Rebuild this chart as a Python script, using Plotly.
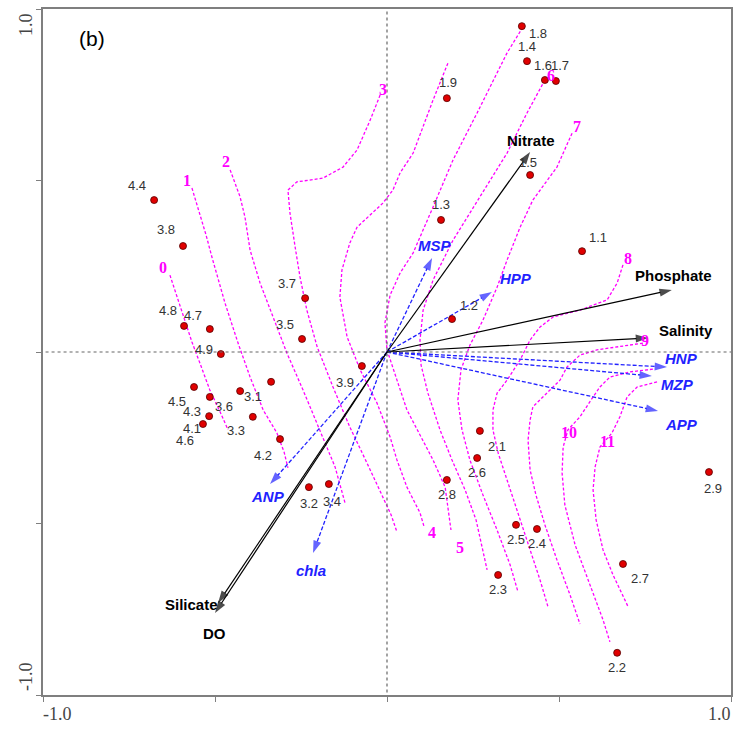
import plotly.graph_objects as go

# ---------------- data ----------------
site_labels = ["4.4", "3.8", "4.8", "4.7", "4.9", "4.5", "4.3", "4.1", "4.6", "3.6", "3.3", "3.1",
               "4.2", "3.7", "3.5", "3.9", "3.2", "3.4", "1.9", "1.3", "1.8", "1.4", "1.6", "1.7",
               "1.5", "1.1", "1.2", "2.1", "2.6", "2.8", "2.5", "2.4", "2.3", "2.7", "2.2", "2.9"]
site_x = [-0.677, -0.593, -0.590, -0.515, -0.483, -0.561, -0.515, -0.517, -0.535, -0.427, -0.390, -0.337,
          -0.311, -0.238, -0.247, -0.073, -0.227, -0.169, 0.174, 0.157, 0.392, 0.407, 0.459, 0.491,
          0.416, 0.567, 0.189, 0.270, 0.262, 0.174, 0.375, 0.436, 0.323, 0.686, 0.669, 0.936]
site_y = [0.443, 0.309, 0.076, 0.067, -0.006, -0.102, -0.131, -0.187, -0.210, -0.114, -0.189, -0.087,
          -0.254, 0.157, 0.038, -0.041, -0.394, -0.385, 0.740, 0.385, 0.950, 0.848, 0.793, 0.790,
          0.516, 0.294, 0.096, -0.230, -0.309, -0.373, -0.504, -0.516, -0.650, -0.618, -0.877, -0.350]

env_names = ["Nitrate", "Phosphate", "Salinity", "Silicate", "DO"]
env_x = [0.416, 0.828, 0.759, -0.491, -0.500]
env_y = [0.583, 0.181, 0.041, -0.732, -0.761]

sp_names = ["MSP", "HPP", "HNP", "MZP", "APP", "ANP", "chla"]
sp_x = [0.131, 0.305, 0.814, 0.770, 0.788, -0.340, -0.215]
sp_y = [0.274, 0.175, -0.044, -0.070, -0.172, -0.385, -0.586]

contour_levels = ["0", "1", "2", "3", "4", "5", "6", "7", "8", "9", "10", "11"]
contour_x = [
    [-0.631, -0.610, -0.590, -0.567, -0.544, -0.515, -0.485, -0.462],
    [-0.567, -0.544, -0.526, -0.509, -0.491, -0.471, -0.433, -0.398, -0.360, -0.320, -0.299, -0.288],
    [-0.456, -0.427, -0.413, -0.398, -0.369, -0.331, -0.291, -0.244, -0.195, -0.151, -0.122],
    [-0.020, -0.049, -0.087, -0.128, -0.186, -0.262, -0.288, -0.282, -0.267, -0.253, -0.233, -0.203,
     -0.157, -0.108, -0.058, -0.012, 0.012, 0.029],
    [0.177, 0.134, 0.076, 0.038, 0.017, -0.012, -0.087, -0.108, -0.131, -0.137, -0.116, -0.078,
     -0.029, 0.009, 0.029, 0.058, 0.096, 0.108],
    [0.395, 0.349, 0.262, 0.192, 0.134, 0.076, 0.038, 0.009, -0.006, 0.000, 0.029, 0.058, 0.096,
     0.134, 0.169, 0.180, 0.186],
    [0.459, 0.407, 0.349, 0.270, 0.192, 0.134, 0.105, 0.096, 0.099, 0.119, 0.154, 0.189, 0.227,
     0.259, 0.279, 0.291],
    [0.538, 0.494, 0.424, 0.387, 0.349, 0.320, 0.279, 0.241, 0.215, 0.206, 0.218, 0.241, 0.279,
     0.320, 0.358, 0.381],
    [0.686, 0.669, 0.640, 0.561, 0.483, 0.445, 0.416, 0.387, 0.349, 0.320, 0.308, 0.308, 0.323,
     0.349, 0.378, 0.416, 0.445, 0.468],
    [0.744, 0.677, 0.610, 0.561, 0.523, 0.503, 0.465, 0.424, 0.416, 0.410, 0.416, 0.433, 0.459,
     0.494, 0.532, 0.561],
    [0.773, 0.706, 0.648, 0.619, 0.599, 0.561, 0.526, 0.512, 0.509, 0.517, 0.547, 0.590, 0.628, 0.648],
    [0.785, 0.727, 0.698, 0.677, 0.654, 0.619, 0.605, 0.599, 0.608, 0.628, 0.657, 0.683, 0.701],
]
contour_y = [
    [0.224, 0.160, 0.093, 0.029, -0.032, -0.111, -0.175, -0.227],
    [0.478, 0.405, 0.341, 0.277, 0.210, 0.143, 0.026, -0.073, -0.169, -0.236, -0.292, -0.338],
    [0.531, 0.452, 0.394, 0.297, 0.201, 0.102, -0.003, -0.111, -0.227, -0.335, -0.440],
    [0.749, 0.676, 0.589, 0.539, 0.507, 0.496, 0.472, 0.405, 0.306, 0.219, 0.122, 0.015, -0.102,
     -0.219, -0.324, -0.423, -0.475, -0.525],
    [0.842, 0.735, 0.580, 0.522, 0.472, 0.434, 0.364, 0.318, 0.239, 0.160, 0.044, -0.052, -0.149,
     -0.248, -0.315, -0.394, -0.469, -0.510],
    [0.947, 0.872, 0.697, 0.560, 0.423, 0.289, 0.230, 0.166, 0.085, 0.006, -0.082, -0.169, -0.242,
     -0.315, -0.394, -0.469, -0.519],
    [0.793, 0.697, 0.580, 0.452, 0.326, 0.210, 0.122, 0.035, -0.038, -0.120, -0.227, -0.315, -0.402,
     -0.490, -0.577, -0.635],
    [0.638, 0.539, 0.443, 0.364, 0.268, 0.189, 0.093, 0.020, -0.052, -0.140, -0.227, -0.315, -0.417,
     -0.519, -0.621, -0.700],
    [0.254, 0.201, 0.152, 0.122, 0.102, 0.073, 0.035, -0.023, -0.082, -0.120, -0.169, -0.227, -0.294,
     -0.373, -0.461, -0.577, -0.665, -0.743],
    [0.026, 0.017, 0.006, -0.009, -0.044, -0.082, -0.120, -0.160, -0.198, -0.257, -0.344, -0.417,
     -0.504, -0.606, -0.708, -0.793],
    [-0.050, -0.058, -0.073, -0.102, -0.131, -0.189, -0.227, -0.277, -0.353, -0.446, -0.563, -0.679,
     -0.781, -0.845],
    [-0.087, -0.102, -0.131, -0.189, -0.236, -0.277, -0.335, -0.402, -0.490, -0.577, -0.650, -0.708,
     -0.743],
]
contour_label_x = [-0.651, -0.581, -0.468, -0.012, 0.131, 0.212, 0.477, 0.552, 0.701, 0.750, 0.529, 0.640]
contour_label_y = [0.245, 0.501, 0.554, 0.764, -0.525, -0.571, 0.807, 0.656, 0.274, 0.035, -0.236, -0.262]

# ---------------- styling (pixel offsets of text labels) ----------------
site_label_offsets = {
    "4.4": (-17, -15), "3.8": (-17, -17), "4.8": (-16, -15), "4.7": (-17, -14), "4.9": (-17, -5),
    "4.5": (-17, 15), "4.3": (-18, 15), "4.1": (-17, 12), "4.6": (-18, 16), "3.6": (-16, 15),
    "3.3": (-17, 14), "3.1": (-18, 15), "4.2": (-17, 16), "3.7": (-18, -15), "3.5": (-17, -14),
    "3.9": (-17, 16), "3.2": (0, 16), "3.4": (3, 17), "1.9": (1, -16), "1.3": (0, -15),
    "1.8": (16, 7), "1.4": (0, -15), "1.6": (-2, -15), "1.7": (4, -16), "1.5": (-2, -13),
    "1.1": (16, -14), "1.2": (17, -14), "2.1": (17, 16), "2.6": (0, 15), "2.8": (0, 15),
    "2.5": (0, 15), "2.4": (0, 15), "2.3": (0, 15), "2.7": (17, 15), "2.2": (0, 15), "2.9": (4, 16),
}
env_label_offsets = {"Nitrate": (1, -12, "center"), "Phosphate": (2, -14, "center"),
                     "Salinity": (9, -7, "left"), "Silicate": (2, 1, "right"), "DO": (-1, 20, "center")}
sp_label_offsets = {"MSP": (3, -13), "HPP": (24, -13), "HNP": (14, -9), "MZP": (26, 8),
                    "APP": (23, 13), "ANP": (-2, 12), "chla": (-2, 17)}

MAGENTA = "#ff00ff"
BLUE = "#2222ff"

fig = go.Figure()

# contours
for lev, cx, cy in zip(contour_levels, contour_x, contour_y):
    fig.add_trace(go.Scatter(x=cx, y=cy, mode="lines", line=dict(color=MAGENTA, width=1.3, dash="3px,2px"),
                             hoverinfo="skip"))

# species arrows (dashed blue)
for n, tx, ty in zip(sp_names, sp_x, sp_y):
    fig.add_trace(go.Scatter(x=[0, tx], y=[0, ty], mode="lines+markers",
                             line=dict(color=BLUE, width=1.3, dash="4px,2px"),
                             marker=dict(symbol=["circle", "arrow"], size=[0, 13], angleref="previous",
                                         color=BLUE, line=dict(width=0)),
                             hoverinfo="skip"))

# environmental arrows (solid black)
for n, tx, ty in zip(env_names, env_x, env_y):
    fig.add_trace(go.Scatter(x=[0, tx], y=[0, ty], mode="lines+markers",
                             line=dict(color="black", width=1.2),
                             marker=dict(symbol=["circle", "arrow"], size=[0, 13], angleref="previous",
                                         color="black", line=dict(width=0)),
                             hoverinfo="skip"))

# sites
fig.add_trace(go.Scatter(x=site_x, y=site_y, mode="markers",
                         marker=dict(color="#e00000", size=7, line=dict(color="#550000", width=0.8)),
                         hoverinfo="skip"))

ann = []
for lab, sx, sy in zip(site_labels, site_x, site_y):
    dx, dy = site_label_offsets[lab]
    ann.append(dict(x=sx, y=sy, text=lab, showarrow=False, xshift=dx, yshift=-dy,
                    font=dict(family="Arial, Liberation Sans", size=13, color="#333333")))
for n, tx, ty in zip(env_names, env_x, env_y):
    dx, dy, anc = env_label_offsets[n]
    ann.append(dict(x=tx, y=ty, text="<b>%s</b>" % n, showarrow=False, xshift=dx, yshift=-dy, xanchor=anc,
                    font=dict(family="Arial, Liberation Sans", size=15, color="black")))
for n, tx, ty in zip(sp_names, sp_x, sp_y):
    dx, dy = sp_label_offsets[n]
    ann.append(dict(x=tx, y=ty, text="<b><i>%s</i></b>" % n, showarrow=False, xshift=dx, yshift=-dy,
                    font=dict(family="Arial, Liberation Sans", size=15, color=BLUE)))
for lev, lx, ly in zip(contour_levels, contour_label_x, contour_label_y):
    ann.append(dict(x=lx, y=ly, text="<b>%s</b>" % lev, showarrow=False,
                    font=dict(family="Liberation Serif, Times New Roman", size=16, color=MAGENTA)))

# panel label and axis end labels
ctr = dict(xanchor="center", yanchor="middle", showarrow=False, xref="paper", yref="paper")
ann.append(dict(x=0.0712, y=0.9577, text="(b)", font=dict(family="Arial, Liberation Sans", size=21, color="black"), **ctr))
tick_font = dict(family="Liberation Serif, Times New Roman", size=18, color="#444444")
ann.append(dict(x=0.0218, y=-0.0277, text="-1.0", font=tick_font, **ctr))
ann.append(dict(x=0.9826, y=-0.0277, text="1.0", font=tick_font, **ctr))
ann.append(dict(x=-0.0247, y=0.9767, text="1.0", textangle=-90, font=tick_font, **ctr))
ann.append(dict(x=-0.0247, y=0.0262, text="-1.0", textangle=-90, font=tick_font, **ctr))

shapes = [
    dict(type="line", xref="x", yref="y", x0=0, x1=0, y0=-1.01, y1=1, line=dict(color="#666666", width=1.2, dash="dot")),
    dict(type="line", xref="x", yref="y", x0=-1.01, x1=1, y0=0, y1=0, line=dict(color="#666666", width=1.2, dash="dot")),
]

axis_common = dict(range=[-1, 1], showgrid=False, zeroline=False, showline=True, linecolor="#7f7f7f",
                   linewidth=1.5, mirror=True, ticks="outside", ticklen=5, tickcolor="#7f7f7f",
                   tickwidth=1.2, tickvals=[-1, -0.5, 0, 0.5, 1], showticklabels=False, fixedrange=True,
                   automargin=False)

fig.update_layout(
    width=734, height=729,
    margin=dict(l=43, r=3, t=9, b=34, autoexpand=False),
    plot_bgcolor="white", paper_bgcolor="white",
    showlegend=False,
    xaxis=axis_common, yaxis=axis_common,
    annotations=ann, shapes=shapes,
)

fig.write_html("out.html", config={"displayModeBar": False},
               post_script="document.body.style.margin='0';document.body.style.overflow='hidden';")
